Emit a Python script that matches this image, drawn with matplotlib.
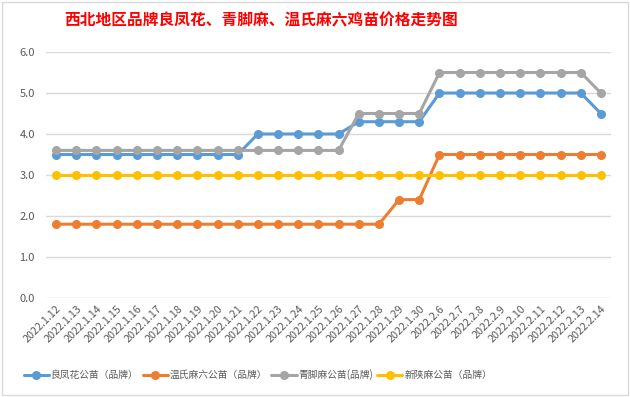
import matplotlib
matplotlib.use("Agg")
import matplotlib.pyplot as plt
from matplotlib.patches import Rectangle

plt.rcParams['font.family'] = ['Noto Sans CJK SC', 'DejaVu Sans']

dates = ["2022.1.12", "2022.1.13", "2022.1.14", "2022.1.15", "2022.1.16", "2022.1.17",
         "2022.1.18", "2022.1.19", "2022.1.20", "2022.1.21", "2022.1.22", "2022.1.23",
         "2022.1.24", "2022.1.25", "2022.1.26", "2022.1.27", "2022.1.28", "2022.1.29",
         "2022.1.30", "2022.2.6", "2022.2.7", "2022.2.8", "2022.2.9", "2022.2.10",
         "2022.2.11", "2022.2.12", "2022.2.13", "2022.2.14"]

liangfenghua = [3.5]*10 + [4.0]*5 + [4.3]*4 + [5.0]*8 + [4.5]
wenshi = [1.8]*17 + [2.4]*2 + [3.5]*9
qingjiao = [3.6]*15 + [4.5]*4 + [5.5]*8 + [5.0]
xinshan = [3.0]*28

names = ["良凤花公苗（品牌）", "温氏麻六公苗（品牌）", "青脚麻公苗(品牌)", "新陕麻公苗（品牌）"]
colors = ["#5B9BD5", "#ED7D31", "#A5A5A5", "#FFC000"]
series = [liangfenghua, wenshi, qingjiao, xinshan]

fig = plt.figure(figsize=(6.3, 3.97), dpi=100)
ax = fig.add_axes([46/630, 1-298/397, (611-46)/630, (298-52)/397])

x = list(range(len(dates)))
handles = {}
for i in range(4):
    h, = ax.plot(x, series[i], color=colors[i], lw=2.2, marker='o', markersize=5.5,
                 label=names[i], zorder=3+i, solid_capstyle='round')
    handles[i] = h

ax.set_xlim(-0.5, len(dates)-0.5)
ax.set_ylim(0, 6)
ax.set_yticks([0, 1, 2, 3, 4, 5, 6])
ax.set_yticklabels([f"{v:.1f}" for v in [0, 1, 2, 3, 4, 5, 6]], fontsize=8, color="#595959")
ax.set_xticks(x)
ax.set_xticklabels(dates, rotation=45, ha='right', rotation_mode='anchor', fontsize=7.8, color="#595959")
ax.tick_params(axis='both', length=0, pad=4)
ax.tick_params(axis='y', pad=8)
ax.grid(axis='y', color="#D9D9D9", lw=1)
ax.set_axisbelow(True)
for s in ax.spines.values():
    s.set_visible(False)

fig.text(261/630, 1-20/397, "西北地区品牌良凤花、青脚麻、温氏麻六鸡苗价格走势图",
         ha='center', va='center', fontsize=11.3, color='#FF0000', fontweight='bold')

leg = fig.legend([handles[i] for i in range(4)], names, loc='center',
                 bbox_to_anchor=(258/630, 1-375/397), ncol=4, frameon=False,
                 fontsize=7, handlelength=2.6, columnspacing=0.4, handletextpad=0.2,
                 labelcolor="#595959")

fig.patches.append(Rectangle((0.003, 0.005), 0.994, 0.99, transform=fig.transFigure,
                             fill=False, edgecolor="#D9D9D9", lw=1))

fig.savefig("out.png", dpi=100)
